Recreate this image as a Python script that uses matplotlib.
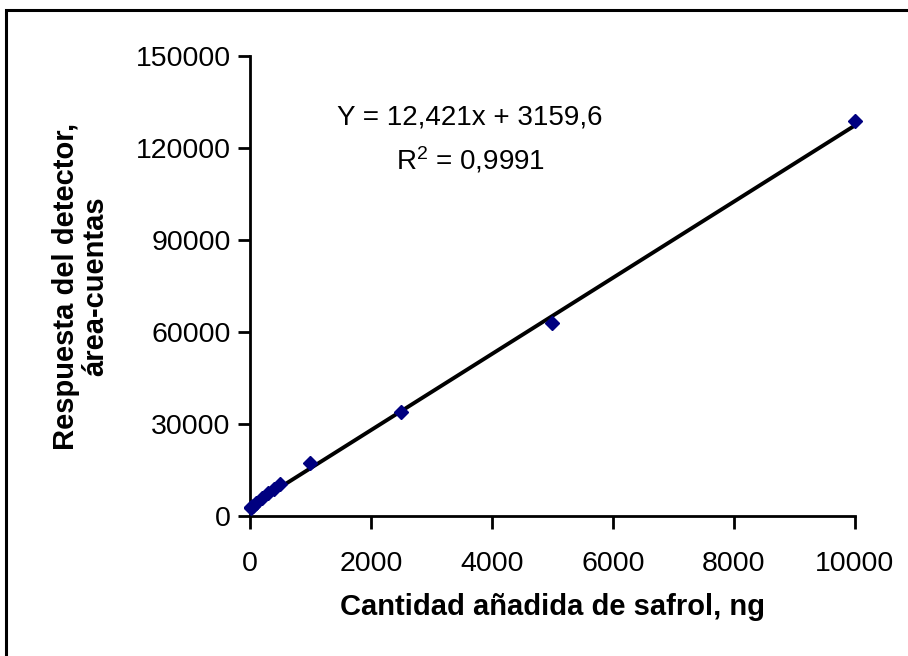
import numpy as np
import matplotlib.pyplot as plt
import matplotlib.patches as mpatches

plt.rcParams['font.family'] = ['Liberation Sans', 'DejaVu Sans']

# cantidad de safrol (ng) y respuesta del detector (area-cuentas)
cantidad = [10, 25, 50, 100, 200, 300, 400, 500, 1000, 2500, 5000, 10000]
respuesta = [2500, 2900, 3300, 4300, 5900, 7400, 8900, 10500, 17400, 33800, 62800, 128700]

pendiente = 12.421
intercepto = 3159.6
r2 = 0.9991

x_ticks = [0, 2000, 4000, 6000, 8000, 10000]
y_ticks = [0, 30000, 60000, 90000, 120000, 150000]

fig = plt.figure(figsize=(9.08, 6.56), dpi=100)
ax = fig.add_axes([0.2753, 0.2134, 0.6663, 0.7012])

# marco exterior
fig.patches.append(mpatches.Rectangle((6 / 908, -0.05), 1.0, 1 - 10 / 656 + 0.05,
                                      transform=fig.transFigure, fill=False,
                                      edgecolor='black', linewidth=2.2))

xl = np.array([0, 10000])
ax.plot(xl, pendiente * xl + intercepto, color='black', lw=2.8, zorder=2)
ax.plot(cantidad, respuesta, 'D', color='#000080', markersize=7.5, zorder=3,
        clip_on=False)

ax.set_xlim(0, 10000)
ax.set_ylim(0, 150000)
ax.set_xticks(x_ticks)
ax.set_yticks(y_ticks)
ax.tick_params(labelsize=20.5, width=2, length=9, direction='out')
ax.tick_params(axis='x', pad=16)
ax.tick_params(axis='y', pad=5)
for s in ['top', 'right']:
    ax.spines[s].set_visible(False)
for s in ['left', 'bottom']:
    ax.spines[s].set_linewidth(2)

ax.set_xlabel('Cantidad añadida de safrol, ng', fontsize=21, fontweight='bold', labelpad=12)
ax.set_ylabel('Respuesta del detector,\nárea-cuentas', fontsize=21, fontweight='bold',
              labelpad=19, linespacing=1.05)

eq = 'Y = {:.3f}x + {:.1f}'.format(pendiente, intercepto).replace('.', ',')
ax.text(3640, 129800, eq, fontsize=20, ha='center', va='center')
ax.text(3640, 116100, '$\\mathregular{R^2}$ = ' + '{:.4f}'.format(r2).replace('.', ','),
        fontsize=20, ha='center', va='center')

fig.savefig('out.png', dpi=100)
